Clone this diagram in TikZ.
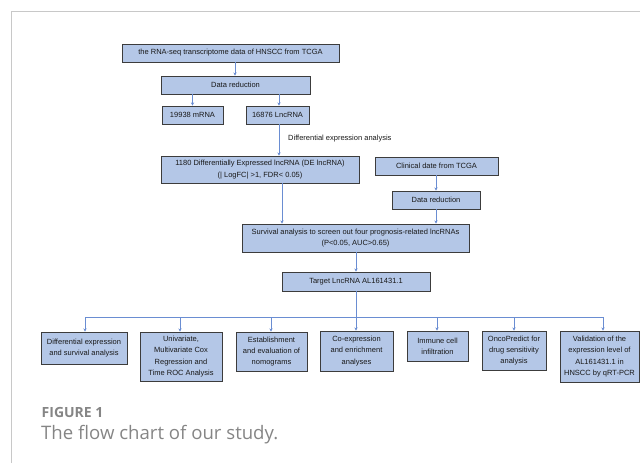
\documentclass[tikz,border=0pt]{standalone}
\usepackage{fontspec}
\setmainfont{Open Sans}
\newfontfamily\boxfont{Liberation Sans}
\usetikzlibrary{arrows.meta,calc}
\definecolor{boxblue}{HTML}{B4C7E7}
\definecolor{boxline}{HTML}{3C3C3C}
\definecolor{arrowblue}{HTML}{6A8DD2}
\definecolor{framegray}{HTML}{C8C8C8}
\definecolor{capgray}{HTML}{858585}
\tikzset{
  box/.style={draw=boxline, fill=boxblue, line width=0.9pt, inner sep=0pt, align=center,
    font=\boxfont\fontsize{7.5}{11.3}\selectfont, text=black!90},
  conn/.style={draw=arrowblue, line width=0.7pt},
  arr/.style={conn, -{Stealth[length=3.2pt,width=3.4pt]}},
  lbl/.style={font=\boxfont\fontsize{7.5}{9}\selectfont, inner sep=0pt, text=black!90}
}
\begin{document}
\begin{tikzpicture}[x=1pt,y=-1pt]
\useasboundingbox (0,0) rectangle (640,465);
% frame
\draw[framegray, line width=1.2pt] (11.5,463) -- (11.5,11.5) -- (640,11.5);

% nodes
\node[box, minimum width=217pt, minimum height=18pt] (b1) at (230.5,53) {the RNA-seq transcriptome data of HNSCC from TCGA};
\node[box, minimum width=149pt, minimum height=18pt] (dr1) at (235.5,85) {Data reduction};
\node[box, minimum width=61pt, minimum height=18pt] (mrna) at (192.5,115) {19938 mRNA};
\node[box, minimum width=63pt, minimum height=18pt] (lnc) at (277.5,115) {16876 LncRNA};
\node[box, minimum width=198pt, minimum height=27pt] (de) at (260,169.5) {1180 Differentially Expressed lncRNA (DE lncRNA)\\(| LogFC| >1, FDR< 0.05)};
\node[box, minimum width=123pt, minimum height=18pt] (clin) at (436.5,166) {Clinical date from TCGA};
\node[box, minimum width=88pt, minimum height=18pt] (dr2) at (436,200) {Data reduction};
\node[box, minimum width=227pt, minimum height=28pt] (surv) at (355.5,238) {Survival analysis to screen out four prognosis-related lncRNAs\\(P<0.05, AUC>0.65)};
\node[box, minimum width=148pt, minimum height=19pt] (target) at (356,281.5) {Target LncRNA AL161431.1};

\node[box, minimum width=86pt, minimum height=32pt] (o1) at (84,348) {Differential expression\\and survival analysis};
\node[box, minimum width=82pt, minimum height=49pt] (o2) at (181,356.5) {Univariate,\\Multivariate Cox\\Regression and\\Time ROC Analysis};
\node[box, minimum width=71pt, minimum height=39pt] (o3) at (271.5,351.5) {Establishment\\and evaluation of\\nomograms};
\node[box, minimum width=73pt, minimum height=40pt] (o4) at (356.5,351) {Co-expression\\and enrichment\\analyses};
\node[box, minimum width=61pt, minimum height=30pt] (o5) at (437.5,346) {Immune cell\\infiltration};
\node[box, minimum width=64pt, minimum height=39pt] (o6) at (514,350.5) {OncoPredict for\\drug sensitivity\\analysis};
\node[box, minimum width=79pt, minimum height=51pt] (o7) at (599.5,356.5) {Validation of the\\expression level of\\AL161431.1 in\\HNSCC by qRT-PCR};

\node[lbl, anchor=west] (dea) at (288,139) {Differential expression analysis};

% connectors
\draw[arr] ([xshift=4.5pt]b1.south) -- ([xshift=4.5pt]b1.south |- dr1.north);
\draw[arr] (dr1.south -| mrna.north) -- (mrna.north);
\draw[arr] ([xshift=1.5pt]lnc.north |- dr1.south) -- ([xshift=1.5pt]lnc.north);
\draw[arr] ([xshift=1.5pt]lnc.south) -- ([xshift=1.5pt]lnc.south |- de.north);
\draw[arr] ([xshift=22pt]de.south) -- ([xshift=22pt]de.south |- surv.north);
\draw[arr] (clin.south -| dr2.north) -- (dr2.north);
\draw[arr] (dr2.south) -- (dr2.south |- surv.north);
\draw[arr] (surv.south -| target.north) -- (target.north);

\coordinate (bus) at (356,317);
\coordinate (in1) at ([xshift=1pt]o1.north);
\coordinate (in2) at ([xshift=-1pt]o2.north);
\coordinate (in3) at ([xshift=-0.5pt]o3.north);
\coordinate (in4) at ([xshift=-0.5pt]o4.north);
\coordinate (in5) at ([xshift=-0.5pt]o5.north);
\coordinate (in6) at (o6.north);
\coordinate (in7) at ([xshift=3.5pt]o7.north);
\draw[conn] (target.south) -- (bus);
\draw[conn] (bus -| in1) -- (bus -| in7);
\foreach \i in {1,...,7} {
  \draw[arr] (bus -| in\i) -- (in\i);
}

% caption
\node[anchor=base west, inner sep=0pt, text=capgray, font=\bfseries\fontsize{14}{16}\selectfont] (fig) at (41.5,417.3) {FIGURE 1};
\node[anchor=base west, inner sep=0pt, text=capgray, font=\fontsize{18.6}{22}\selectfont] (cap) at (41,439.3) {The flow chart of our study.};
\end{tikzpicture}
\end{document}
